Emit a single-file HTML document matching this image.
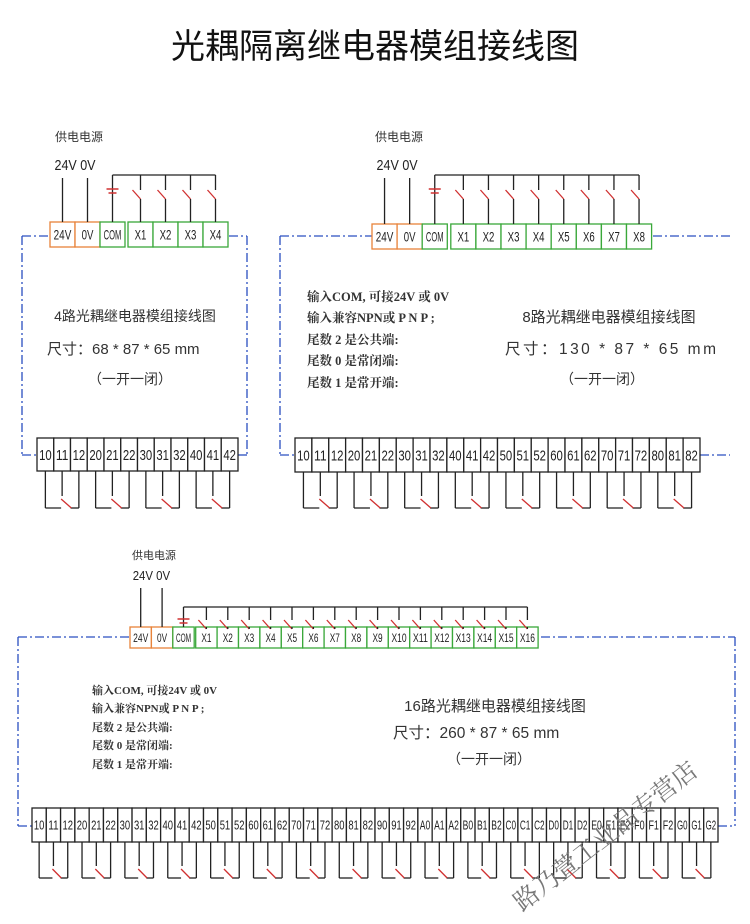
<!DOCTYPE html>
<html><head><meta charset="utf-8">
<style>
html,body{margin:0;padding:0;background:#fff;}
svg{display:block;}
.t{font-family:"Liberation Sans","Noto Sans CJK SC",sans-serif;}
.s{font-family:"Liberation Serif","Noto Serif CJK SC","Noto Sans CJK SC",serif;font-weight:bold;}
</style></head>
<body>
<svg id="g" width="750" height="924" viewBox="0 0 750 924" xmlns="http://www.w3.org/2000/svg">
<text x="375" y="58" text-anchor="middle" class="t" font-size="34" fill="#111">光耦隔离继电器模组接线图</text>

<text x="55" y="141" class="t" font-size="12" fill="#333">供电电源</text>
<text x="135" y="321" text-anchor="middle" class="t" font-size="14" fill="#333">4路光耦继电器模组接线图</text>
<text x="47" y="354" class="t" font-size="15" fill="#333">尺寸：68 * 87 * 65 mm</text>
<text x="88" y="384" class="t" font-size="14" fill="#333">（一开一闭）</text>

<text x="375" y="141" class="t" font-size="12" fill="#333">供电电源</text>
<g class="s" font-size="12.5" fill="#333">
<text x="307" y="301">输入COM, 可接24V  或  0V</text>
<text x="307" y="322">输入兼容NPN或 P N P ;</text>
<text x="307" y="344">尾数  2  是公共端:</text>
<text x="307" y="365">尾数  0  是常闭端:</text>
<text x="307" y="387">尾数  1  是常开端:</text>
</g>
<text x="609" y="322" text-anchor="middle" class="t" font-size="15" fill="#333">8路光耦继电器模组接线图</text>
<text x="505" y="354" class="t" font-size="15.5" fill="#333" textLength="211">尺寸：130 * 87 * 65 mm</text>
<text x="560" y="384" class="t" font-size="14" fill="#333">（一开一闭）</text>

<text x="132" y="559" class="t" font-size="11" fill="#333">供电电源</text>
<g class="s" font-size="11" fill="#333">
<text x="92" y="694">输入COM, 可接24V  或  0V</text>
<text x="92" y="712">输入兼容NPN或 P N P ;</text>
<text x="92" y="731">尾数  2  是公共端:</text>
<text x="92" y="749">尾数  0  是常闭端:</text>
<text x="92" y="768">尾数  1  是常开端:</text>
</g>
<text x="495" y="711" text-anchor="middle" class="t" font-size="15" fill="#333">16路光耦继电器模组接线图</text>
<text x="393" y="738" class="t" font-size="15.5" fill="#333">尺寸：260 * 87 * 65 mm</text>
<text x="447" y="764" class="t" font-size="14" fill="#333">（一开一闭）</text>
</svg>
<script>
var svg=document.getElementById('g');var NS='http://www.w3.org/2000/svg';
function el(n,a,txt){var e=document.createElementNS(NS,n);for(var k in a)e.setAttribute(k,a[k]);if(txt!=null)e.textContent=txt;svg.appendChild(e);return e;}
function line(x1,y1,x2,y2,c,w,d){var a={x1:x1,y1:y1,x2:x2,y2:y2,stroke:c||'#222','stroke-width':w||1.3};if(d)a['stroke-dasharray']=d;el('line',a);}
function cell(x,y,w,h,c,lab,fs){el('rect',{x:x,y:y,width:w,height:h,fill:'#fff',stroke:c,'stroke-width':1.3});
 var a={x:x+w/2,y:y+h/2+fs*0.36,'text-anchor':'middle','font-family':'"Liberation Sans Narrow","Liberation Sans",sans-serif','font-size':fs,fill:'#222'};
 var t=el('text',a,lab); var L=Math.min(w-3,lab.length*fs*0.42); t.setAttribute('textLength',L); t.setAttribute('lengthAdjust','spacingAndGlyphs');}
var BL='#2a4fc0',DA='9,3,2,3';
function diag(o){
 line(o.fl,o.ty,o.tx0,o.ty,BL,1.3,DA); line(o.txEnd,o.ty,o.fr,o.ty,BL,1.3,DA);
 line(o.fl,o.ty,o.fl,o.by,BL,1.3,DA); if(o.frv) line(o.fr,o.ty,o.fr,o.by,BL,1.3,DA);
 line(o.fl,o.by,o.bx0,o.by,BL,1.3,DA); line(o.bxEnd,o.by,o.fr,o.by,BL,1.3,DA);
 var w=o.tw,x=o.tx0,h=o.th,y=o.tty;
 var c24=x+w/2,c0=x+w*1.5,cc=x+w*2.5;
 cell(x,y,w,h,'#e8833a','24V',o.tfs);cell(x+w,y,w,h,'#e8833a','0V',o.tfs);cell(x+2*w,y,w,h,'#3aa83a','COM',o.tfs);
 line(c24,o.wy+3,c24,y);line(c0,o.wy+3,c0,y);
 el('text',{x:(c24+c0)/2,y:o.wy-5,'text-anchor':'middle','font-family':'"Liberation Sans Narrow","Liberation Sans",sans-serif','font-size':o.tfs+1,fill:'#222','textLength':c0-c24+16,'lengthAdjust':'spacingAndGlyphs'},'24V   0V');
 var xs=x+3*w+o.gap,last;
 for(var i=0;i<o.n;i++){var cx=xs+i*w;cell(cx,y,w,h,'#3aa83a','X'+(i+1),o.tfs);var m=cx+w/2;last=m;
  var sw=o.sy;line(m,o.hy,m,sw);el('line',{x1:m-8,y1:sw,x2:m,y2:sw+9,stroke:'#d03030','stroke-width':1.3});line(m,sw+9,m,y);}
 line(cc,o.hy,last,o.hy);line(cc,o.hy,cc,y);
 el('line',{x1:cc-6,y1:o.sy-1,x2:cc+6,y2:o.sy-1,stroke:'#d03030','stroke-width':1.5});
 el('line',{x1:cc-4,y1:o.sy+3,x2:cc+4,y2:o.sy+3,stroke:'#d03030','stroke-width':1.5});
 var bw=(o.bxEnd-o.bx0)/o.labs.length;
 for(var j=0;j<o.labs.length;j++){cell(o.bx0+j*bw,o.bty,bw,o.bh,'#222',o.labs[j],o.bfs);}
 var yb=o.bty+o.bh;
 for(var g=0;g<o.labs.length/3;g++){var a=o.bx0+(3*g+0.5)*bw,b=o.bx0+(3*g+1.5)*bw,c=o.bx0+(3*g+2.5)*bw;
  line(a,yb,a,o.ly);line(c,yb,c,o.ly);line(a,o.ly,b-1,o.ly);line(b+bw*0.5,o.ly,c,o.ly);line(b,yb,b,o.ly-12);
  el('line',{x1:b-1,y1:o.ly-9,x2:b+bw*0.55,y2:o.ly,stroke:'#d03030','stroke-width':1.3});}
}
function nums(n){var r=[];for(var i=1;i<=n;i++)for(var k=0;k<3;k++)r.push(''+i+k);return r;}
diag({fl:22,fr:247,frv:true,ty:236,by:455,tx0:50,txEnd:229,bx0:37,bxEnd:238,tw:25,th:25,tty:222,tfs:14,gap:3,n:4,hy:175,sy:190,wy:175,bty:438,bh:33,bfs:15,ly:508,labs:nums(4)});
diag({fl:280,fr:730,frv:false,ty:236,by:455,tx0:372,txEnd:653,bx0:295,bxEnd:700,tw:25.1,th:25,tty:224,tfs:14,gap:3.5,n:8,hy:175,sy:190,wy:175,bty:438,bh:34,bfs:15,ly:508,labs:nums(8)});
var l16=nums(9);['A','B','C','D','E','F','G'].forEach(function(L){l16.push(L+'0',L+'1',L+'2');});
diag({fl:18,fr:735,frv:true,ty:637,by:826,tx0:130,txEnd:541,bx0:32,bxEnd:718,tw:21.4,th:21,tty:627,tfs:12,gap:1.5,n:16,hy:607,sy:620,wy:585,bty:808,bh:34,bfs:12.5,ly:878,labs:l16});
el('text',{transform:'translate(522,912) rotate(-38)','font-family':'"Liberation Serif","Noto Serif CJK SC",serif','font-size':25,fill:'#777'},'路乃萱工业品专营店');
</script>
</body></html>
